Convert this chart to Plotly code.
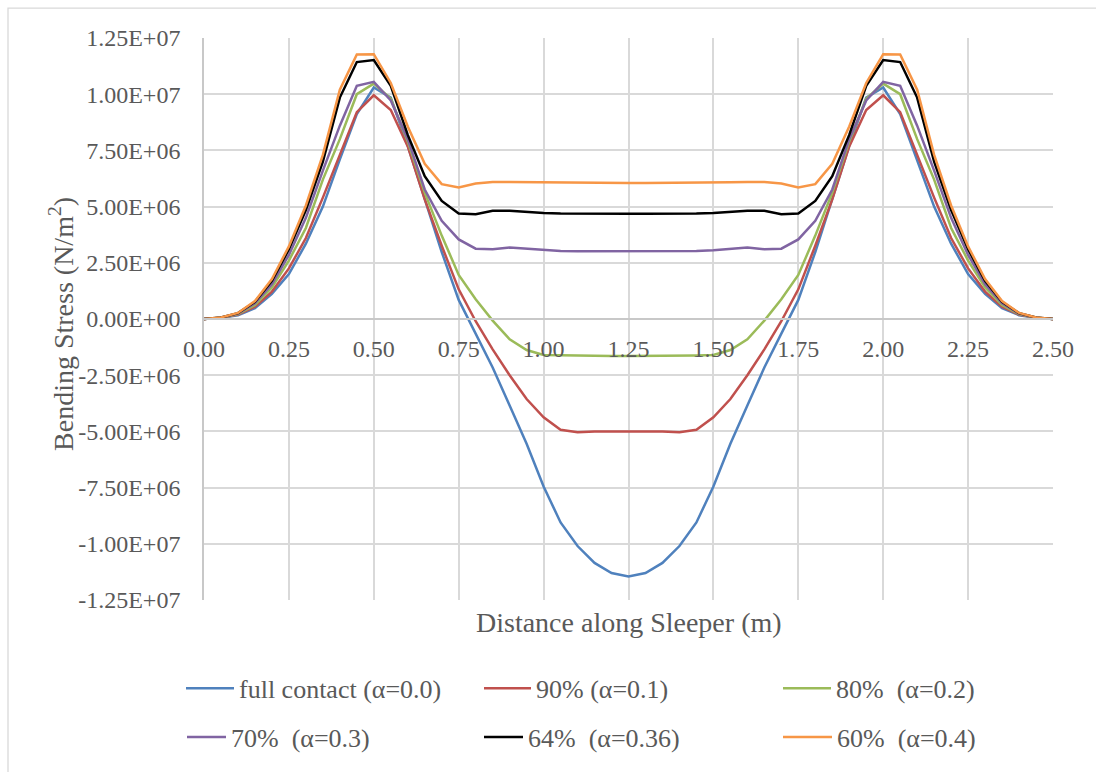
import plotly.graph_objects as go

# Distance along sleeper (m)
distance = [0.00, 0.05, 0.10, 0.15, 0.20, 0.25, 0.30, 0.35, 0.40, 0.45, 0.50,
            0.55, 0.60, 0.65, 0.70, 0.75, 0.80, 0.85, 0.90, 0.95, 1.00,
            1.05, 1.10, 1.15, 1.20, 1.25, 1.30, 1.35, 1.40, 1.45, 1.50,
            1.55, 1.60, 1.65, 1.70, 1.75, 1.80, 1.85, 1.90, 1.95, 2.00,
            2.05, 2.10, 2.15, 2.20, 2.25, 2.30, 2.35, 2.40, 2.45, 2.50]

# Bending stress in units of 1E+06 N/m^2
full_contact = [0, 0.05, 0.17, 0.48, 1.12, 2.0, 3.35, 5.0, 7.1, 9.12, 10.3, 9.85, 7.7, 5.3, 2.98, 0.85, -0.65,
                -2.16, -3.85, -5.55, -7.45, -9.05, -10.1, -10.85, -11.3, -11.45, -11.3, -10.85, -10.1, -9.05,
                -7.45, -5.55, -3.85, -2.16, -0.65, 0.85, 2.98, 5.3, 7.7, 9.85, 10.3, 9.12, 7.1, 5.0, 3.35, 2.0,
                1.12, 0.48, 0.17, 0.05, 0]
contact_90 = [0, 0.05, 0.2, 0.55, 1.22, 2.25, 3.6, 5.4, 7.3, 9.2, 9.95, 9.3, 7.68, 5.32, 3.26, 1.32, -0.1,
              -1.35, -2.5, -3.56, -4.37, -4.93, -5.04, -5.0, -5.0, -5.0, -5.0, -5.0, -5.04, -4.93, -4.37,
              -3.56, -2.5, -1.35, -0.1, 1.32, 3.26, 5.32, 7.68, 9.3, 9.95, 9.2, 7.3, 5.4, 3.6, 2.25, 1.22,
              0.55, 0.2, 0.05, 0]
contact_80 = [0, 0.06, 0.22, 0.62, 1.4, 2.6, 4.05, 6.2, 8.0, 10.0, 10.47, 9.8, 7.9, 5.62, 3.71, 1.96, 0.88,
              -0.07, -0.9, -1.38, -1.6, -1.62, -1.63, -1.64, -1.65, -1.65, -1.65, -1.64, -1.63, -1.62, -1.6,
              -1.38, -0.9, -0.07, 0.88, 1.96, 3.71, 5.62, 7.9, 9.8, 10.47, 10.0, 8.0, 6.2, 4.05, 2.6, 1.4,
              0.62, 0.22, 0.06, 0]
contact_70 = [0, 0.06, 0.24, 0.7, 1.55, 2.85, 4.5, 6.6, 8.6, 10.37, 10.55, 9.72, 8.0, 5.76, 4.37, 3.54, 3.13,
              3.1, 3.18, 3.13, 3.06, 3.02, 3.01, 3.01, 3.01, 3.01, 3.01, 3.01, 3.01, 3.02, 3.06, 3.13, 3.18,
              3.1, 3.13, 3.54, 4.37, 5.76, 8.0, 9.72, 10.55, 10.37, 8.6, 6.6, 4.5, 2.85, 1.55, 0.7, 0.24,
              0.06, 0]
contact_64 = [0, 0.07, 0.26, 0.76, 1.7, 3.1, 4.85, 7.0, 9.85, 11.43, 11.52, 10.37, 8.19, 6.35, 5.25, 4.69,
              4.66, 4.81, 4.82, 4.76, 4.72, 4.69, 4.68, 4.68, 4.68, 4.68, 4.68, 4.68, 4.68, 4.69, 4.72, 4.76,
              4.82, 4.81, 4.66, 4.69, 5.25, 6.35, 8.19, 10.37, 11.52, 11.43, 9.85, 7.0, 4.85, 3.1, 1.7, 0.76,
              0.26, 0.07, 0]
contact_60 = [0, 0.07, 0.27, 0.8, 1.78, 3.23, 5.05, 7.3, 10.2, 11.77, 11.78, 10.5, 8.56, 6.9, 6.0, 5.85,
              6.03, 6.09, 6.09, 6.08, 6.07, 6.06, 6.05, 6.05, 6.05, 6.05, 6.05, 6.05, 6.05, 6.06, 6.07, 6.08,
              6.09, 6.09, 6.03, 5.85, 6.0, 6.9, 8.56, 10.5, 11.78, 11.77, 10.2, 7.3, 5.05, 3.23, 1.78, 0.8,
              0.27, 0.07, 0]

series_names = ["full contact (\u03b1=0.0)", "90% (\u03b1=0.1)", "80%  (\u03b1=0.2)",
                "70%  (\u03b1=0.3)", "64%  (\u03b1=0.36)", "60%  (\u03b1=0.4)"]
series_values = [full_contact, contact_90, contact_80, contact_70, contact_64, contact_60]
series_colors = ["#4F81BD", "#C0504D", "#9BBB59", "#8064A2", "#000000", "#F79646"]

y_tickvals = [1.25e7, 1.0e7, 7.5e6, 5.0e6, 2.5e6, 0, -2.5e6, -5.0e6, -7.5e6, -1.0e7, -1.25e7]
y_ticktext = ["1.25E+07", "1.00E+07", "7.50E+06", "5.00E+06", "2.50E+06", "0.00E+00",
              "-2.50E+06", "-5.00E+06", "-7.50E+06", "-1.00E+07", "-1.25E+07"]
x_tickvals = [0, 0.25, 0.5, 0.75, 1.0, 1.25, 1.5, 1.75, 2.0, 2.25, 2.5]
x_ticktext = ["0.00", "0.25", "0.50", "0.75", "1.00", "1.25", "1.50", "1.75", "2.00", "2.25", "2.50"]

FONT = "Liberation Serif"
TXT = "#595959"
GRID = "#d9d9d9"

W, H = 1096, 772
L, R, T, B = 204, 1053, 38, 604
pw, ph = R - L, B - T


def px(x):
    return (x - L) / pw


def py(y):
    return (B - y) / ph


# legend slot layout: (item start x px, row centre y px, symbol item width px)
legend_slots = [(182, 693, 48), (480, 693, 47), (779, 693, 48),
                (183, 742, 39), (480, 742, 39), (779, 742, 49)]
legend_ids = ["legend", "legend2", "legend3", "legend4", "legend5", "legend6"]

fig = go.Figure()
for name, vals, col, lg in zip(series_names, series_values, series_colors, legend_ids):
    fig.add_trace(go.Scatter(
        x=distance, y=[v * 1e6 for v in vals], mode="lines", name=name,
        line=dict(color=col, width=2.5), legend=lg))

layout_legends = {}
for lg, (sx, sy, iw) in zip(legend_ids, legend_slots):
    layout_legends[lg] = dict(orientation="h", x=px(sx - 1), y=py(sy), xanchor="left", yanchor="middle",
                              itemwidth=max(iw, 30), font=dict(family=FONT, size=26, color=TXT),
                              bgcolor="rgba(0,0,0,0)", borderwidth=0)

fig.update_layout(
    width=W, height=H,
    margin=dict(l=L, r=W - R, t=T, b=H - B, pad=0),
    paper_bgcolor="white", plot_bgcolor="white",
    font=dict(family=FONT, color=TXT, size=24),
    xaxis=dict(range=[0, 2.5], tickvals=x_tickvals, ticktext=x_ticktext,
               showgrid=True, gridcolor=GRID, gridwidth=1.6,
               zeroline=False, showline=True, linecolor="#c8c8c8", linewidth=1.6,
               anchor="free", position=0.5, ticks="", ticklabelstandoff=8,
               tickfont=dict(family=FONT, size=24, color=TXT)),
    yaxis=dict(range=[-1.25e7, 1.25e7], tickvals=y_tickvals, ticktext=y_ticktext,
               showgrid=True, gridcolor=GRID, gridwidth=1.6,
               zeroline=False, showline=True, linecolor="#c8c8c8", linewidth=1.6,
               ticks="", ticklabelstandoff=17,
               tickfont=dict(family=FONT, size=24, color=TXT)),
    showlegend=True,
    **layout_legends,
)

fig.add_annotation(text="Distance along Sleeper (m)", xref="paper", yref="paper",
                   x=px(629), y=py(627), showarrow=False, xanchor="center", yanchor="middle",
                   font=dict(family=FONT, size=28, color=TXT))
fig.add_annotation(text="Bending Stress (N/m<sup>2</sup>)", xref="paper", yref="paper",
                   x=px(62), y=py(326), showarrow=False, textangle=-90,
                   xanchor="center", yanchor="middle",
                   font=dict(family=FONT, size=28, color=TXT))

# outer chart frame
fig.add_shape(type="rect", xref="paper", yref="paper",
              x0=px(8), x1=px(1110), y0=py(790), y1=py(8),
              line=dict(color=GRID, width=1.3), fillcolor="rgba(0,0,0,0)", layer="below")

fig.write_html("out.html")
